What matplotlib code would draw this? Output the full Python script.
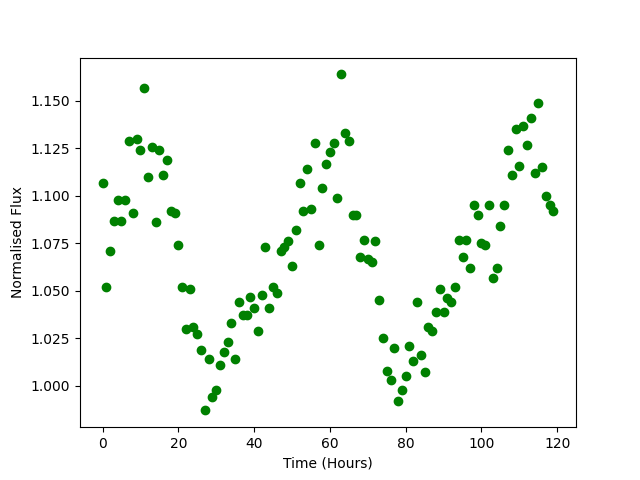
import numpy as np
import matplotlib
matplotlib.use('Agg')
import matplotlib.pyplot as plt

time_hours = np.arange(120)

flux = [
    1.107, 1.052, 1.071, 1.087, 1.098, 1.087, 1.098, 1.129, 1.091, 1.130,
    1.124, 1.157, 1.110, 1.126, 1.086, 1.124, 1.111, 1.119, 1.092, 1.091,
    1.074, 1.052, 1.030, 1.051, 1.031, 1.027, 1.019, 0.987, 1.014, 0.994,
    0.998, 1.011, 1.018, 1.023, 1.033, 1.014, 1.044, 1.037, 1.037, 1.047,
    1.041, 1.029, 1.048, 1.073, 1.041, 1.052, 1.049, 1.071, 1.073, 1.076,
    1.063, 1.082, 1.107, 1.092, 1.114, 1.093, 1.128, 1.074, 1.104, 1.117,
    1.123, 1.128, 1.099, 1.164, 1.133, 1.129, 1.090, 1.090, 1.068, 1.077,
    1.067, 1.065, 1.076, 1.045, 1.025, 1.008, 1.003, 1.020, 0.992, 0.998,
    1.005, 1.021, 1.013, 1.044, 1.016, 1.007, 1.031, 1.029, 1.039, 1.051,
    1.039, 1.046, 1.044, 1.052, 1.077, 1.068, 1.077, 1.062, 1.095, 1.090,
    1.075, 1.074, 1.095, 1.057, 1.062, 1.084, 1.095, 1.124, 1.111, 1.135,
    1.116, 1.137, 1.127, 1.141, 1.112, 1.149, 1.115, 1.100, 1.095, 1.092,
]

plt.figure(figsize=(6.4, 4.8), dpi=100)
plt.plot(time_hours, flux, 'o', color='green')
plt.xlabel('Time (Hours)')
plt.ylabel('Normalised Flux')
plt.savefig('out.png')
